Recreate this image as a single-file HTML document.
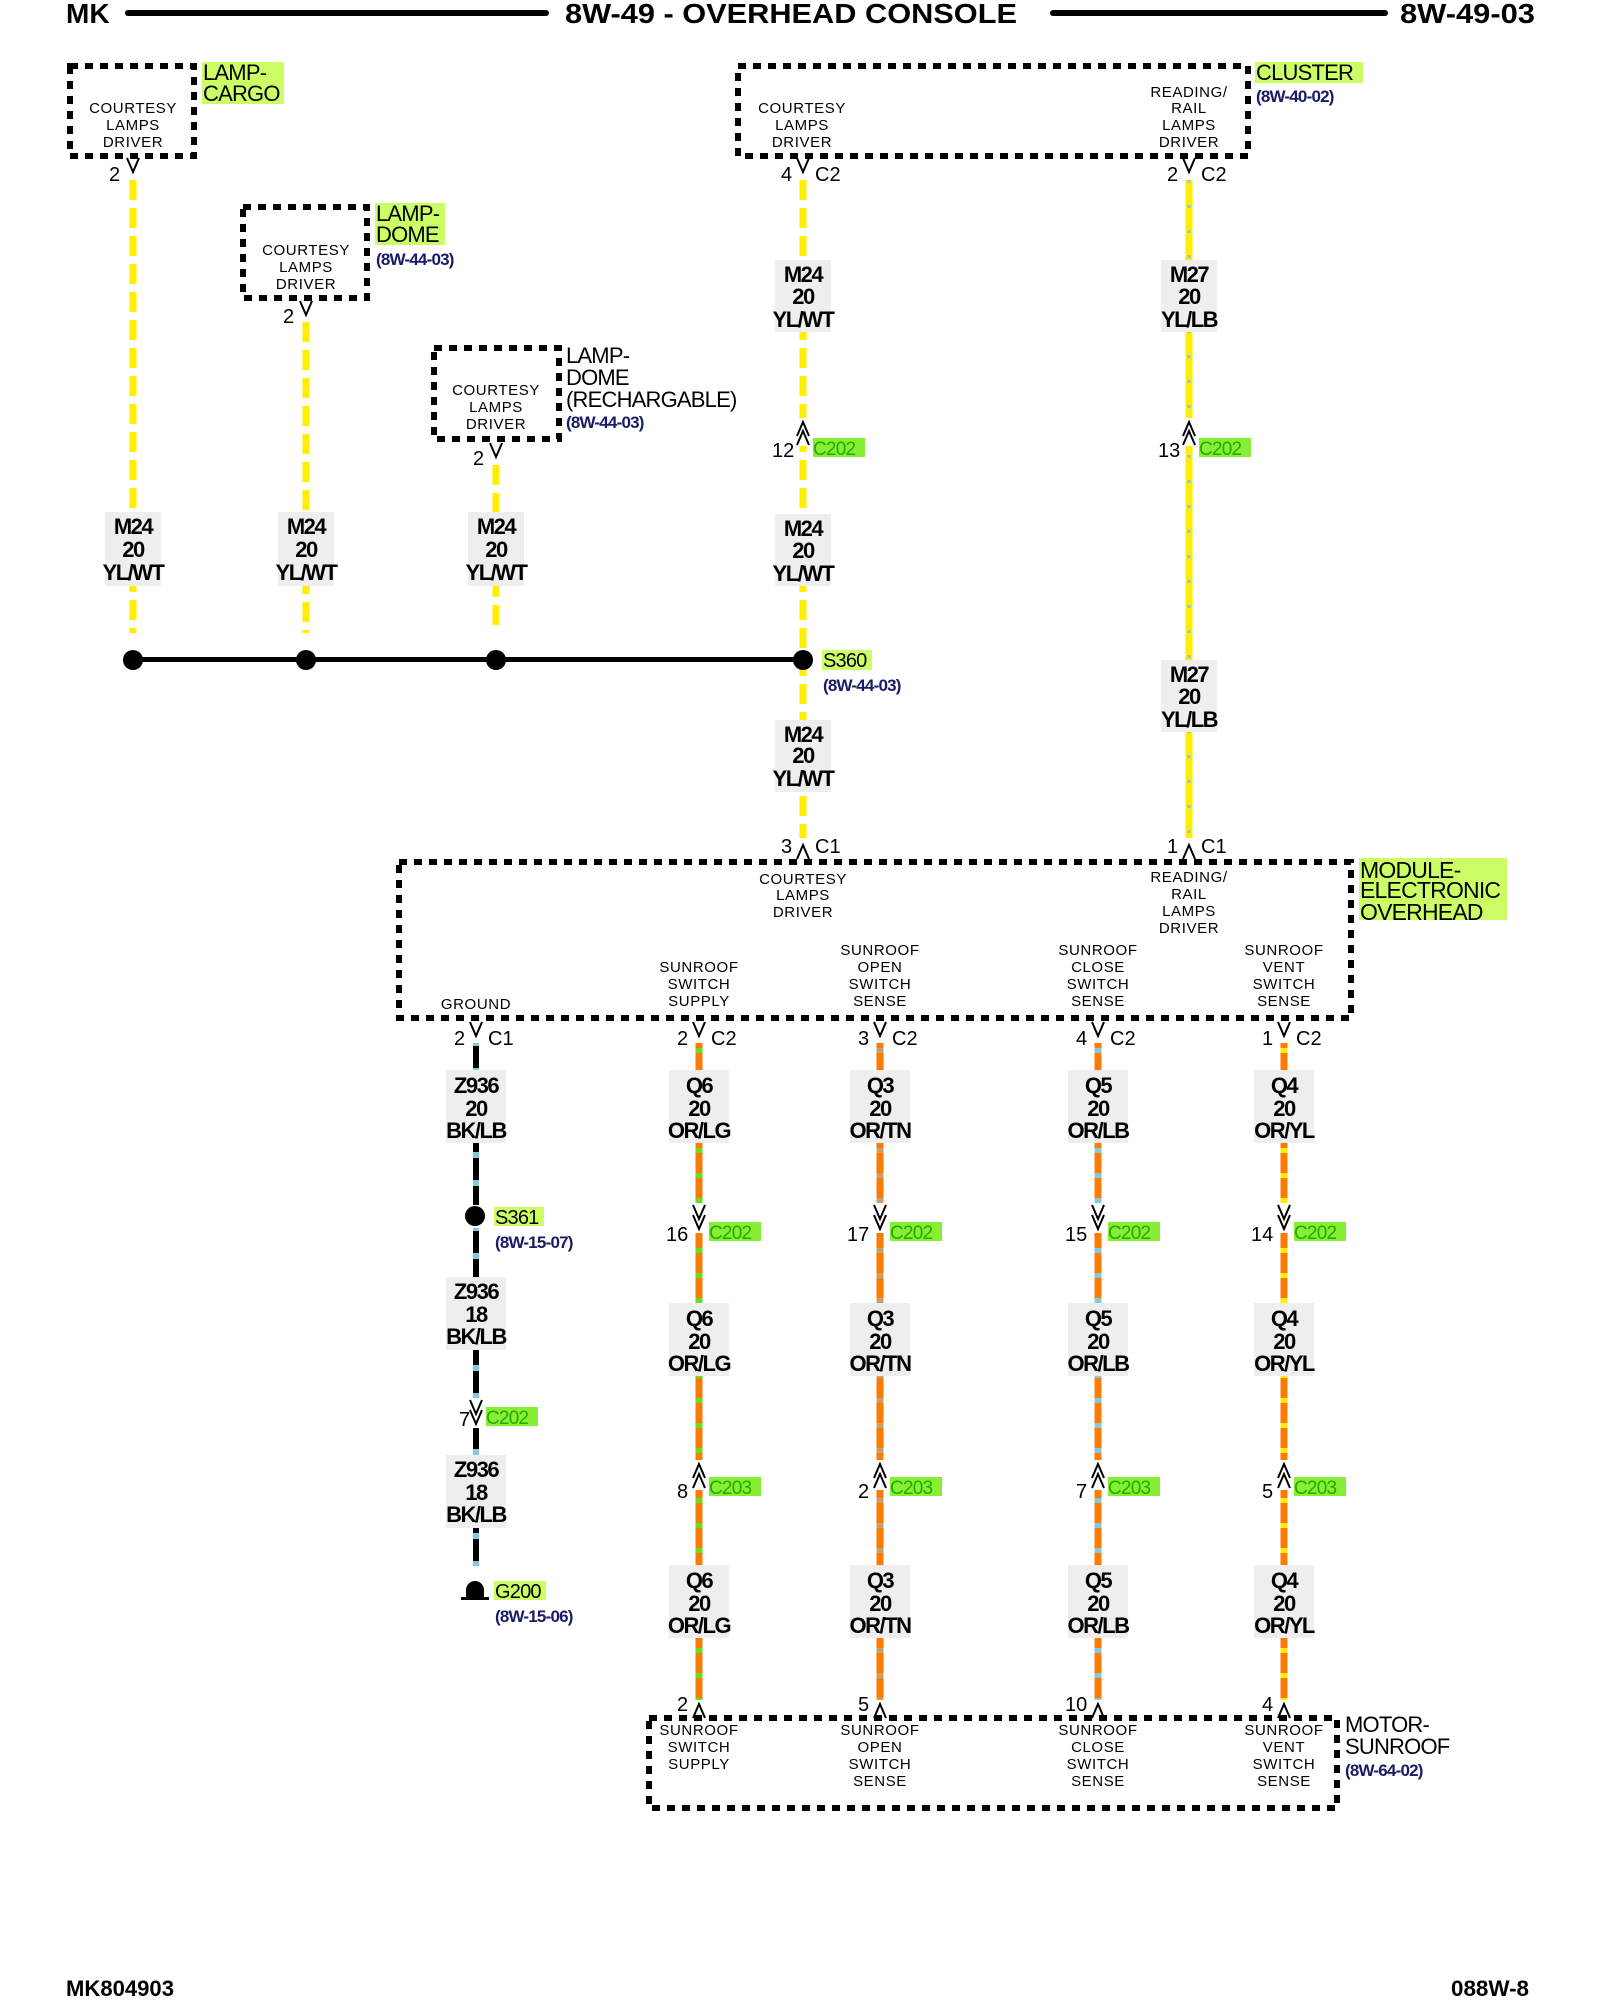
<!DOCTYPE html>
<html><head><meta charset="utf-8"><style>
html,body{margin:0;padding:0;background:#fff}
svg{display:block}
text{font-family:"Liberation Sans",sans-serif}
.h{font-size:28px;font-weight:bold}
.bx{font-size:15px;text-anchor:middle;letter-spacing:0.6px}
.wl{font-size:22px;font-weight:bold;text-anchor:middle;letter-spacing:-1.5px}
.lb{font-size:22px;letter-spacing:-0.8px}
.rf{font-size:17px;fill:#1a1a66;font-weight:bold;letter-spacing:-0.8px}
.pn{font-size:20px}
.cn{font-size:19px;fill:#22aa00;letter-spacing:-0.8px}
.ft{font-size:22px;font-weight:bold}
</style></head><body>
<svg width="1600" height="2000" viewBox="0 0 1600 2000" xmlns="http://www.w3.org/2000/svg">
<defs>
<g id="vd"><path d="M-6,-8 L0,6 L6,-8" fill="none" stroke="#000" stroke-width="2"/></g>
<g id="vu"><path d="M-6,8 L0,-6 L6,8" fill="none" stroke="#000" stroke-width="2"/></g>
</defs>
<!-- header -->
<text x="66" y="23" class="h">MK</text>
<rect x="125" y="10" width="424" height="6" rx="3"/>
<text x="565" y="23" class="h" textLength="452" lengthAdjust="spacingAndGlyphs">8W-49 - OVERHEAD CONSOLE</text>
<rect x="1050" y="10" width="338" height="6" rx="3"/>
<text x="1400" y="23" class="h" textLength="135" lengthAdjust="spacingAndGlyphs">8W-49-03</text>

<!-- yellow wires top -->
<g stroke="#ffee00" stroke-width="7" stroke-dasharray="20 8">
<line x1="133" y1="180" x2="133" y2="633"/>
<line x1="306" y1="322" x2="306" y2="633"/>
<line x1="496" y1="465" x2="496" y2="633"/>
<line x1="803" y1="180" x2="803" y2="838"/>
</g>
<line x1="1189" y1="180" x2="1189" y2="838" stroke="#ffee00" stroke-width="7"/>
<line x1="1189" y1="180" x2="1189" y2="838" stroke="#88c8dd" stroke-width="3" stroke-dasharray="3 22"/>

<!-- boxes top -->
<g fill="none" stroke="#000" stroke-width="6" stroke-dasharray="8 7">
<rect x="70" y="66" width="124" height="90"/>
<rect x="243" y="207" width="124" height="91"/>
<rect x="434" y="348" width="125" height="91"/>
<rect x="738" y="66" width="510" height="90"/>
<rect x="399" y="862" width="952" height="156"/>
<rect x="649" y="1718" width="688" height="90"/>
</g>
<text class="bx"><tspan x="133" y="113">COURTESY</tspan><tspan x="133" y="130">LAMPS</tspan><tspan x="133" y="147">DRIVER</tspan></text>
<text class="bx"><tspan x="306" y="255">COURTESY</tspan><tspan x="306" y="272">LAMPS</tspan><tspan x="306" y="289">DRIVER</tspan></text>
<text class="bx"><tspan x="496" y="395">COURTESY</tspan><tspan x="496" y="412">LAMPS</tspan><tspan x="496" y="429">DRIVER</tspan></text>
<text class="bx"><tspan x="802" y="113">COURTESY</tspan><tspan x="802" y="130">LAMPS</tspan><tspan x="802" y="147">DRIVER</tspan></text>
<text class="bx"><tspan x="1189" y="97">READING/</tspan><tspan x="1189" y="113">RAIL</tspan><tspan x="1189" y="130">LAMPS</tspan><tspan x="1189" y="147">DRIVER</tspan></text>

<!-- top labels -->
<rect x="202" y="62" width="82" height="42" fill="#ccff66"/>
<text class="lb"><tspan x="203" y="80">LAMP-</tspan><tspan x="203" y="101">CARGO</tspan></text>
<rect x="375" y="203" width="70" height="42" fill="#ccff66"/>
<text class="lb"><tspan x="376" y="221">LAMP-</tspan><tspan x="376" y="242">DOME</tspan></text>
<text x="376" y="265" class="rf">(8W-44-03)</text>
<text class="lb"><tspan x="566" y="363">LAMP-</tspan><tspan x="566" y="385">DOME</tspan><tspan x="566" y="407">(RECHARGABLE)</tspan></text>
<text x="566" y="428" class="rf">(8W-44-03)</text>
<rect x="1255" y="62" width="108" height="21" fill="#ccff66"/>
<text x="1256" y="80" class="lb">CLUSTER</text>
<text x="1256" y="102" class="rf">(8W-40-02)</text>

<!-- top pins -->
<use href="#vd" x="133" y="166"/><text x="109" y="181" class="pn">2</text>
<use href="#vd" x="306" y="309"/><text x="283" y="323" class="pn">2</text>
<use href="#vd" x="496" y="451"/><text x="473" y="465" class="pn">2</text>
<use href="#vd" x="803" y="166"/><text x="781" y="181" class="pn">4</text><text x="815" y="181" class="pn">C2</text>
<use href="#vd" x="1189" y="166"/><text x="1167" y="181" class="pn">2</text><text x="1201" y="181" class="pn">C2</text>

<!-- C202 top -->
<rect x="794" y="418" width="18" height="28" fill="#fff"/>
<rect x="1180" y="418" width="18" height="28" fill="#fff"/>
<use href="#vu" x="803" y="428"/><use href="#vu" x="803" y="437"/>
<text x="772" y="457" class="pn">12</text>
<rect x="813" y="438" width="52" height="19" fill="#88ee33"/><text x="813" y="455" class="cn">C202</text>
<use href="#vu" x="1189" y="428"/><use href="#vu" x="1189" y="437"/>
<text x="1158" y="457" class="pn">13</text>
<rect x="1199" y="438" width="52" height="19" fill="#88ee33"/><text x="1199" y="455" class="cn">C202</text>

<!-- wire labels -->
<g>
<rect x="105" y="512" width="56" height="74" fill="#eeeeee"/>
<rect x="278" y="512" width="56" height="74" fill="#eeeeee"/>
<rect x="468" y="512" width="56" height="74" fill="#eeeeee"/>
<rect x="775" y="260" width="56" height="72" fill="#eeeeee"/>
<rect x="775" y="514" width="56" height="72" fill="#eeeeee"/>
<rect x="775" y="720" width="56" height="72" fill="#eeeeee"/>
<rect x="1161" y="260" width="56" height="72" fill="#eeeeee"/>
<rect x="1161" y="660" width="56" height="72" fill="#eeeeee"/>
</g>
<text class="wl"><tspan x="133" y="534">M24</tspan><tspan x="133" y="557">20</tspan><tspan x="133" y="580">YL/WT</tspan></text>
<text class="wl"><tspan x="306" y="534">M24</tspan><tspan x="306" y="557">20</tspan><tspan x="306" y="580">YL/WT</tspan></text>
<text class="wl"><tspan x="496" y="534">M24</tspan><tspan x="496" y="557">20</tspan><tspan x="496" y="580">YL/WT</tspan></text>
<text class="wl"><tspan x="803" y="282">M24</tspan><tspan x="803" y="304">20</tspan><tspan x="803" y="327">YL/WT</tspan></text>
<text class="wl"><tspan x="803" y="536">M24</tspan><tspan x="803" y="558">20</tspan><tspan x="803" y="581">YL/WT</tspan></text>
<text class="wl"><tspan x="803" y="742">M24</tspan><tspan x="803" y="763">20</tspan><tspan x="803" y="786">YL/WT</tspan></text>
<text class="wl"><tspan x="1189" y="282">M27</tspan><tspan x="1189" y="304">20</tspan><tspan x="1189" y="327">YL/LB</tspan></text>
<text class="wl"><tspan x="1189" y="682">M27</tspan><tspan x="1189" y="704">20</tspan><tspan x="1189" y="727">YL/LB</tspan></text>

<!-- splice S360 -->
<rect x="133" y="657" width="670" height="5"/>
<circle cx="133" cy="660" r="10"/><circle cx="306" cy="660" r="10"/><circle cx="496" cy="660" r="10"/><circle cx="803" cy="660" r="10"/>
<rect x="822" y="650" width="50" height="20" fill="#ccff66"/>
<text x="823" y="667" class="lb" style="font-size:20px">S360</text>
<text x="823" y="691" class="rf">(8W-44-03)</text>

<!-- module pins top -->
<use href="#vu" x="803" y="851"/><text x="781" y="853" class="pn">3</text><text x="815" y="853" class="pn">C1</text>
<use href="#vu" x="1189" y="851"/><text x="1167" y="853" class="pn">1</text><text x="1201" y="853" class="pn">C1</text>

<rect x="1359" y="858" width="148" height="62" fill="#ccff66"/>
<text class="lb" style="font-size:23px"><tspan x="1360" y="878">MODULE-</tspan><tspan x="1360" y="898">ELECTRONIC</tspan><tspan x="1360" y="920">OVERHEAD</tspan></text>

<text class="bx"><tspan x="803" y="884">COURTESY</tspan><tspan x="803" y="900">LAMPS</tspan><tspan x="803" y="917">DRIVER</tspan></text>
<text class="bx"><tspan x="1189" y="882">READING/</tspan><tspan x="1189" y="899">RAIL</tspan><tspan x="1189" y="916">LAMPS</tspan><tspan x="1189" y="933">DRIVER</tspan></text>
<text x="476" y="1009" class="bx">GROUND</text>
<text class="bx"><tspan x="699" y="972">SUNROOF</tspan><tspan x="699" y="989">SWITCH</tspan><tspan x="699" y="1006">SUPPLY</tspan></text>
<text class="bx"><tspan x="880" y="955">SUNROOF</tspan><tspan x="880" y="972">OPEN</tspan><tspan x="880" y="989">SWITCH</tspan><tspan x="880" y="1006">SENSE</tspan></text>
<text class="bx"><tspan x="1098" y="955">SUNROOF</tspan><tspan x="1098" y="972">CLOSE</tspan><tspan x="1098" y="989">SWITCH</tspan><tspan x="1098" y="1006">SENSE</tspan></text>
<text class="bx"><tspan x="1284" y="955">SUNROOF</tspan><tspan x="1284" y="972">VENT</tspan><tspan x="1284" y="989">SWITCH</tspan><tspan x="1284" y="1006">SENSE</tspan></text>

<!-- bottom wires -->
<g stroke="#ff7a00" stroke-width="7">
<line x1="699" y1="1043" x2="699" y2="1700"/>
<line x1="880" y1="1043" x2="880" y2="1700"/>
<line x1="1098" y1="1043" x2="1098" y2="1700"/>
<line x1="1284" y1="1043" x2="1284" y2="1700"/>
</g>
<g stroke-width="7" stroke-dasharray="5 20">
<line x1="699" y1="1048" x2="699" y2="1700" stroke="#66dd22"/>
<line x1="880" y1="1048" x2="880" y2="1700" stroke="#c8a070"/>
<line x1="1098" y1="1048" x2="1098" y2="1700" stroke="#88c8dd"/>
<line x1="1284" y1="1048" x2="1284" y2="1700" stroke="#ffee00"/>
</g>
<line x1="476" y1="1043" x2="476" y2="1205" stroke="#88c8dd" stroke-width="6"/>
<line x1="476" y1="1228" x2="476" y2="1566" stroke="#88c8dd" stroke-width="6"/>
<line x1="476" y1="1046" x2="476" y2="1205" stroke="#000" stroke-width="6" stroke-dasharray="22 6"/>
<line x1="476" y1="1231" x2="476" y2="1563" stroke="#000" stroke-width="6" stroke-dasharray="22 6"/>

<!-- white gaps at inline connectors -->
<g fill="#fff">
<rect x="467" y="1398" width="18" height="30"/>
<rect x="690" y="1203" width="18" height="30"/><rect x="871" y="1203" width="18" height="30"/><rect x="1089" y="1203" width="18" height="30"/><rect x="1275" y="1203" width="18" height="30"/>
<rect x="690" y="1460" width="18" height="30"/><rect x="871" y="1460" width="18" height="30"/><rect x="1089" y="1460" width="18" height="30"/><rect x="1275" y="1460" width="18" height="30"/>
</g>

<!-- module bottom pins -->
<use href="#vd" x="476" y="1030"/><text x="454" y="1045" class="pn">2</text><text x="488" y="1045" class="pn">C1</text>
<use href="#vd" x="699" y="1030"/><text x="677" y="1045" class="pn">2</text><text x="711" y="1045" class="pn">C2</text>
<use href="#vd" x="880" y="1030"/><text x="858" y="1045" class="pn">3</text><text x="892" y="1045" class="pn">C2</text>
<use href="#vd" x="1098" y="1030"/><text x="1076" y="1045" class="pn">4</text><text x="1110" y="1045" class="pn">C2</text>
<use href="#vd" x="1284" y="1030"/><text x="1262" y="1045" class="pn">1</text><text x="1296" y="1045" class="pn">C2</text>

<!-- label bgs bottom -->
<g fill="#eeeeee">
<rect x="446" y="1070" width="60" height="73"/><rect x="446" y="1277" width="60" height="73"/><rect x="446" y="1455" width="60" height="73"/>
<rect x="669" y="1070" width="60" height="73"/><rect x="850" y="1070" width="60" height="73"/><rect x="1068" y="1070" width="60" height="73"/><rect x="1254" y="1070" width="60" height="73"/>
<rect x="669" y="1303" width="60" height="73"/><rect x="850" y="1303" width="60" height="73"/><rect x="1068" y="1303" width="60" height="73"/><rect x="1254" y="1303" width="60" height="73"/>
<rect x="669" y="1565" width="60" height="73"/><rect x="850" y="1565" width="60" height="73"/><rect x="1068" y="1565" width="60" height="73"/><rect x="1254" y="1565" width="60" height="73"/>
</g>
<text class="wl"><tspan x="476" y="1093">Z936</tspan><tspan x="476" y="1116">20</tspan><tspan x="476" y="1138">BK/LB</tspan></text>
<text class="wl"><tspan x="476" y="1299">Z936</tspan><tspan x="476" y="1322">18</tspan><tspan x="476" y="1344">BK/LB</tspan></text>
<text class="wl"><tspan x="476" y="1477">Z936</tspan><tspan x="476" y="1500">18</tspan><tspan x="476" y="1522">BK/LB</tspan></text>

<text class="wl"><tspan x="699" y="1093">Q6</tspan><tspan x="699" y="1116">20</tspan><tspan x="699" y="1138">OR/LG</tspan></text>
<text class="wl"><tspan x="880" y="1093">Q3</tspan><tspan x="880" y="1116">20</tspan><tspan x="880" y="1138">OR/TN</tspan></text>
<text class="wl"><tspan x="1098" y="1093">Q5</tspan><tspan x="1098" y="1116">20</tspan><tspan x="1098" y="1138">OR/LB</tspan></text>
<text class="wl"><tspan x="1284" y="1093">Q4</tspan><tspan x="1284" y="1116">20</tspan><tspan x="1284" y="1138">OR/YL</tspan></text>
<text class="wl"><tspan x="699" y="1326">Q6</tspan><tspan x="699" y="1349">20</tspan><tspan x="699" y="1371">OR/LG</tspan></text>
<text class="wl"><tspan x="880" y="1326">Q3</tspan><tspan x="880" y="1349">20</tspan><tspan x="880" y="1371">OR/TN</tspan></text>
<text class="wl"><tspan x="1098" y="1326">Q5</tspan><tspan x="1098" y="1349">20</tspan><tspan x="1098" y="1371">OR/LB</tspan></text>
<text class="wl"><tspan x="1284" y="1326">Q4</tspan><tspan x="1284" y="1349">20</tspan><tspan x="1284" y="1371">OR/YL</tspan></text>
<text class="wl"><tspan x="699" y="1588">Q6</tspan><tspan x="699" y="1611">20</tspan><tspan x="699" y="1633">OR/LG</tspan></text>
<text class="wl"><tspan x="880" y="1588">Q3</tspan><tspan x="880" y="1611">20</tspan><tspan x="880" y="1633">OR/TN</tspan></text>
<text class="wl"><tspan x="1098" y="1588">Q5</tspan><tspan x="1098" y="1611">20</tspan><tspan x="1098" y="1633">OR/LB</tspan></text>
<text class="wl"><tspan x="1284" y="1588">Q4</tspan><tspan x="1284" y="1611">20</tspan><tspan x="1284" y="1633">OR/YL</tspan></text>

<!-- S361 -->
<circle cx="475" cy="1216" r="10"/>
<rect x="494" y="1207" width="50" height="19" fill="#ccff66"/>
<text x="495" y="1224" class="lb" style="font-size:20px">S361</text>
<text x="495" y="1248" class="rf">(8W-15-07)</text>

<!-- C202 row bottom -->
<g>
<use href="#vd" x="476" y="1408"/><use href="#vd" x="476" y="1418"/><text x="459" y="1426" class="pn">7</text>
<rect x="486" y="1407" width="52" height="19" fill="#88ee33"/><text x="486" y="1424" class="cn">C202</text>
<use href="#vd" x="699" y="1213"/><use href="#vd" x="699" y="1223"/><text x="666" y="1241" class="pn">16</text>
<rect x="709" y="1222" width="52" height="19" fill="#88ee33"/><text x="709" y="1239" class="cn">C202</text>
<use href="#vd" x="880" y="1213"/><use href="#vd" x="880" y="1223"/><text x="847" y="1241" class="pn">17</text>
<rect x="890" y="1222" width="52" height="19" fill="#88ee33"/><text x="890" y="1239" class="cn">C202</text>
<use href="#vd" x="1098" y="1213"/><use href="#vd" x="1098" y="1223"/><text x="1065" y="1241" class="pn">15</text>
<rect x="1108" y="1222" width="52" height="19" fill="#88ee33"/><text x="1108" y="1239" class="cn">C202</text>
<use href="#vd" x="1284" y="1213"/><use href="#vd" x="1284" y="1223"/><text x="1251" y="1241" class="pn">14</text>
<rect x="1294" y="1222" width="52" height="19" fill="#88ee33"/><text x="1294" y="1239" class="cn">C202</text>
</g>
<!-- C203 row -->
<g>
<use href="#vu" x="699" y="1470"/><use href="#vu" x="699" y="1480"/><text x="677" y="1498" class="pn">8</text>
<rect x="709" y="1477" width="52" height="19" fill="#88ee33"/><text x="709" y="1494" class="cn">C203</text>
<use href="#vu" x="880" y="1470"/><use href="#vu" x="880" y="1480"/><text x="858" y="1498" class="pn">2</text>
<rect x="890" y="1477" width="52" height="19" fill="#88ee33"/><text x="890" y="1494" class="cn">C203</text>
<use href="#vu" x="1098" y="1470"/><use href="#vu" x="1098" y="1480"/><text x="1076" y="1498" class="pn">7</text>
<rect x="1108" y="1477" width="52" height="19" fill="#88ee33"/><text x="1108" y="1494" class="cn">C203</text>
<use href="#vu" x="1284" y="1470"/><use href="#vu" x="1284" y="1480"/><text x="1262" y="1498" class="pn">5</text>
<rect x="1294" y="1477" width="52" height="19" fill="#88ee33"/><text x="1294" y="1494" class="cn">C203</text>
</g>

<!-- G200 -->
<path d="M466,1598 L466,1590 A9,9 0 0 1 484,1590 L484,1598 Z"/>
<rect x="461" y="1597" width="28" height="3"/>
<rect x="494" y="1581" width="52" height="19" fill="#ccff66"/>
<text x="495" y="1598" class="lb" style="font-size:20px">G200</text>
<text x="495" y="1622" class="rf">(8W-15-06)</text>

<!-- motor pins -->
<use href="#vu" x="699" y="1710"/><text x="677" y="1711" class="pn">2</text>
<use href="#vu" x="880" y="1710"/><text x="858" y="1711" class="pn">5</text>
<use href="#vu" x="1098" y="1710"/><text x="1065" y="1711" class="pn">10</text>
<use href="#vu" x="1284" y="1710"/><text x="1262" y="1711" class="pn">4</text>

<text class="bx"><tspan x="699" y="1735">SUNROOF</tspan><tspan x="699" y="1752">SWITCH</tspan><tspan x="699" y="1769">SUPPLY</tspan></text>
<text class="bx"><tspan x="880" y="1735">SUNROOF</tspan><tspan x="880" y="1752">OPEN</tspan><tspan x="880" y="1769">SWITCH</tspan><tspan x="880" y="1786">SENSE</tspan></text>
<text class="bx"><tspan x="1098" y="1735">SUNROOF</tspan><tspan x="1098" y="1752">CLOSE</tspan><tspan x="1098" y="1769">SWITCH</tspan><tspan x="1098" y="1786">SENSE</tspan></text>
<text class="bx"><tspan x="1284" y="1735">SUNROOF</tspan><tspan x="1284" y="1752">VENT</tspan><tspan x="1284" y="1769">SWITCH</tspan><tspan x="1284" y="1786">SENSE</tspan></text>
<text class="lb"><tspan x="1345" y="1732">MOTOR-</tspan><tspan x="1345" y="1754">SUNROOF</tspan></text>
<text x="1345" y="1776" class="rf">(8W-64-02)</text>

<!-- footer -->
<text x="66" y="1996" class="ft" textLength="108" lengthAdjust="spacingAndGlyphs">MK804903</text>
<text x="1451" y="1996" class="ft" textLength="78" lengthAdjust="spacingAndGlyphs">088W-8</text>
</svg>
</body></html>
